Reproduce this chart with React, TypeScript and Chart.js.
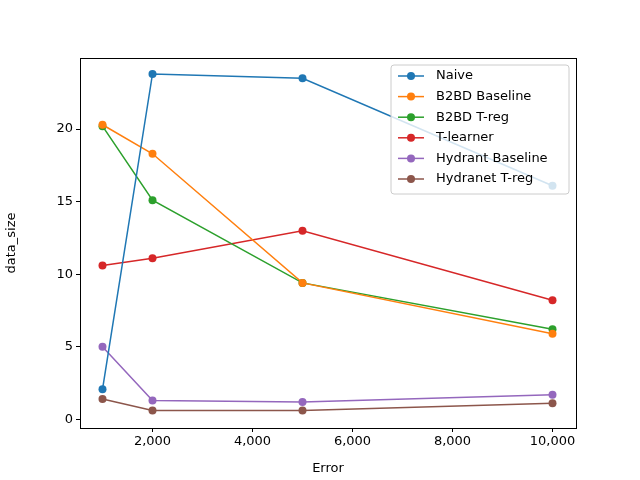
import { useEffect, useRef } from 'react';
import { Chart, registerables } from 'chart.js';
import type { Plugin } from 'chart.js';

Chart.register(...registerables);

const errors = [1000, 2000, 5000, 10000];
const seriesNames = ['Naive', 'B2BD Baseline', 'B2BD T-reg', 'T-learner', 'Hydrant Baseline', 'Hydranet T-reg'];
const naive = [2.07, 23.8, 23.5, 16.1];
const b2bdBaseline = [20.3, 18.3, 9.4, 5.9];
const b2bdTreg = [20.2, 15.1, 9.4, 6.2];
const tLearner = [10.6, 11.1, 13.0, 8.2];
const hydrantBaseline = [5.0, 1.3, 1.2, 1.7];
const hydranetTreg = [1.4, 0.6, 0.6, 1.1];
const xTicks = [2000, 4000, 6000, 8000, 10000];
const yTicks = [0, 5, 10, 15, 20];
const colors = ['#1f77b4', '#ff7f0e', '#2ca02c', '#d62728', '#9467bd', '#8c564b'];

const FONT = 'DejaVu Sans';

const framePlugin: Plugin = {
  id: 'frame',
  afterDraw(chart) {
    const { ctx, chartArea: a } = chart;
    ctx.save();
    ctx.strokeStyle = '#000';
    ctx.lineWidth = 1;
    ctx.strokeRect(a.left + 0.5, a.top + 0.5, a.right - a.left, a.bottom - a.top);

    // legend box, upper right inside the axes
    const w = 178, rowH = 20.6, h = 129;
    const x0 = a.right - 7 - w, y0 = a.top + 7;
    ctx.fillStyle = 'rgba(255,255,255,0.8)';
    ctx.strokeStyle = '#cccccc';
    ctx.beginPath();
    ctx.roundRect(x0, y0, w, h, 3);
    ctx.fill();
    ctx.stroke();
    ctx.font = `13px ${FONT}`;
    ctx.textBaseline = 'middle';
    chart.data.datasets.forEach((ds, i) => {
    const y = y0 + 11 + i * rowH;
      const c = ds.borderColor as string;
      ctx.strokeStyle = c;
      ctx.lineWidth = 1.5;
      ctx.beginPath();
      ctx.moveTo(x0 + 7, y);
      ctx.lineTo(x0 + 33, y);
      ctx.stroke();
      ctx.fillStyle = c;
      ctx.beginPath();
      ctx.arc(x0 + 20, y, 4, 0, Math.PI * 2);
      ctx.fill();
      ctx.fillStyle = '#000';
      ctx.fillText(ds.label as string, x0 + 45, y);
    });
    ctx.restore();
  },
};

export default function App() {
  const canvasRef = useRef<HTMLCanvasElement>(null);

  useEffect(() => {
    document.body.style.margin = '0';
    if (!canvasRef.current) return;
    const all = [naive, b2bdBaseline, b2bdTreg, tLearner, hydrantBaseline, hydranetTreg];
    const chart = new Chart(canvasRef.current, {
      type: 'line',
      data: {
        datasets: all.map((vals, i) => ({
          label: seriesNames[i],
          data: errors.map((x, j) => ({ x, y: vals[j] })),
          borderColor: colors[i],
          backgroundColor: colors[i],
          borderWidth: 1.5,
          pointRadius: 4,
          pointBorderWidth: 0,
          tension: 0,
        })),
      },
      options: {
        responsive: false,
        animation: false,
        layout: { padding: { left: 0, top: 58, right: 64, bottom: 0 } },
        plugins: { legend: { display: false }, tooltip: { enabled: false } },
        scales: {
          x: {
            type: 'linear',
            min: 550,
            max: 10470,
            afterBuildTicks: s => { s.ticks = xTicks.map(v => ({ value: v })); },
            afterFit: s => { s.height = 52; },
            ticks: { color: '#000', font: { family: FONT, size: 13 }, maxRotation: 0, padding: 2 },
            grid: { drawOnChartArea: false, tickLength: 4, color: '#000' },
            border: { display: false },
            title: { display: true, text: 'Error', color: '#000', font: { family: FONT, size: 13 }, padding: { top: 2 } },
          },
          y: {
            min: -0.6,
            max: 24.9,
            afterBuildTicks: s => { s.ticks = yTicks.map(v => ({ value: v })); },
            afterFit: s => { s.width = 80; },
            ticks: { color: '#000', font: { family: FONT, size: 13 }, padding: 3 },
            grid: { drawOnChartArea: false, tickLength: 4, color: '#000' },
            border: { display: false },
            title: { display: true, text: 'data_size', color: '#000', font: { family: FONT, size: 13 }, padding: { bottom: 6 } },
          },
        },
      },
      plugins: [framePlugin],
    });
    return () => chart.destroy();
  }, []);

  return <canvas ref={canvasRef} width={640} height={480} style={{ width: 640, height: 480 }} />;
}
